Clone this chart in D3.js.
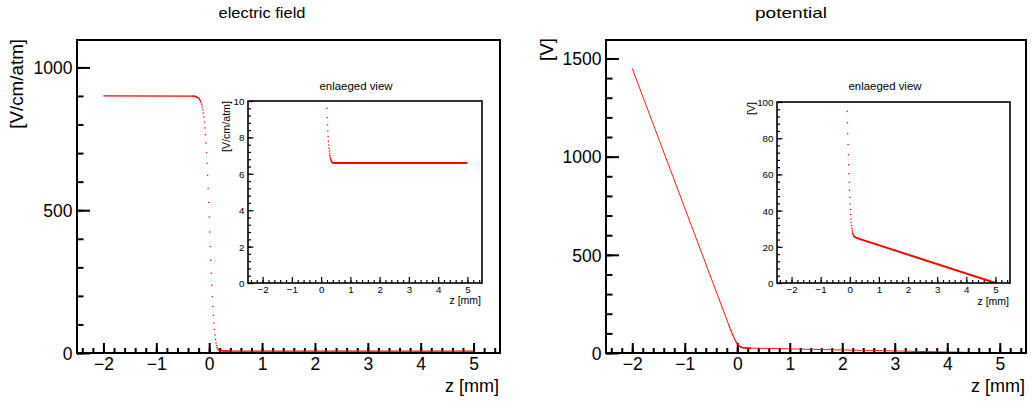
<!DOCTYPE html>
<html><head><meta charset="utf-8">
<script src="https://cdn.jsdelivr.net/npm/d3@7"></script>
<style>
body{margin:0;background:#fff}
text{font-family:'Liberation Sans',Arial,Helvetica,sans-serif;fill:#000}
</style>
</head><body>
<svg id="c" width="1031" height="401"></svg>
<script>
// ---------------- data ----------------
const zDomain = [-2.5, 5.5];
const xMajorTicks = [-2, -1, 0, 1, 2, 3, 4, 5];

// electric field [V/cm/atm]: smooth/flat parts (line) and densely sampled transition (dots)
const fieldLineZ = [-2, -0.30, null, 0.40, 5];
const fieldLineE = [900, 899.5, null, 6.6, 6.6];
const fieldDotZ = [-0.30,-0.29,-0.28,-0.27,-0.26,-0.25,-0.24,-0.23,-0.22,-0.21,
  -0.20,-0.19,-0.18,-0.17,-0.16,-0.15,-0.14,-0.13,-0.12,-0.11,
  -0.10,-0.09,-0.08,-0.07,-0.06,-0.05,-0.04,-0.03,-0.02,-0.01,
  0.00,0.01,0.02,0.03,0.04,0.05,0.06,0.07,0.08,0.09,
  0.10,0.11,0.12,0.13,0.14,0.15,0.16,0.17,0.18,0.19,
  0.20,0.21,0.22,0.23,0.24,0.25,0.26,0.27,0.28,0.29,
  0.30,0.31,0.32,0.33,0.34,0.35,0.36,0.37,0.38,0.39,0.40];
const fieldDotE = [899.5,899.3,899.0,898.6,898.1,897.5,896.7,895.8,894.8,893.5,
  892,890,887,884,880,875,869,861,852,840,
  826,809,788,764,735,702,664,622,576,527,
  476,424,373,325,279,237,198,163,132,105,
  82,63,47,35,26,19.5,15,12.5,11,10.2,
  9.6,9.1,8.7,8.35,8.05,7.8,7.58,7.4,7.25,7.12,
  7.01,6.92,6.85,6.79,6.74,6.7,6.67,6.65,6.63,6.61,6.6];

// potential [V]
const potentialLineZ = [-2, -0.15, null, 0.25, 5];
const potentialLineV = [1449, 135.0, null, 24.8, 0];
const potentialDotZ = [-0.15,-0.14,-0.13,-0.12,-0.11,-0.10,-0.09,-0.08,-0.07,-0.06,
  -0.05,-0.04,-0.03,-0.02,-0.01,0.00,0.01,0.02,0.03,0.04,
  0.05,0.06,0.07,0.08,0.09,0.10,0.11,0.12,0.13,0.14,
  0.15,0.16,0.17,0.18,0.19,0.20,0.21,0.22,0.23,0.24,0.25];
const potentialDotV = [135.0,128.1,121.3,114.5,107.8,101.2,94.8,88.5,82.4,76.5,
  70.8,65.4,60.3,55.6,51.2,47.3,43.7,40.6,37.8,35.4,
  33.4,31.7,30.3,29.1,28.2,27.5,26.9,26.5,26.2,25.9,
  25.7,25.6,25.5,25.4,25.3,25.2,25.1,25.1,25.0,24.9,24.8];

const fieldMajor = [0, 500, 1000];
const potentialMajor = [0, 500, 1000, 1500];
const insetFieldMajor = [0, 2, 4, 6, 8, 10];
const insetPotentialMajor = [0, 20, 40, 60, 80, 100];

// ---------------- drawing ----------------
const svg = d3.select('#c');
svg.append('rect').attr('width', 1031).attr('height', 401).attr('fill', '#fff');
const fmt = d3.format('d');

let clipN = 0;
function panel(o) {
  const g = svg.append('g');
  const x = d3.scaleLinear().domain(zDomain).range([o.x0, o.x1]);
  const y = d3.scaleLinear().domain(o.yDomain).range([o.y1, o.y0]);
  const cid = 'clip' + (clipN++);
  svg.append('clipPath').attr('id', cid).append('rect')
    .attr('x', o.x0).attr('y', o.y0).attr('width', o.x1 - o.x0).attr('height', o.y1 - o.y0);

  const xm = g.append('g').attr('transform', `translate(0,${o.y1})`)
    .call(d3.axisBottom(x).tickValues(d3.ticks(zDomain[0], zDomain[1], 40)).tickSize(-o.xMinor).tickFormat(''));
  const xa = g.append('g').attr('transform', `translate(0,${o.y1})`)
    .call(d3.axisBottom(x).tickValues(xMajorTicks).tickSize(-o.xMajor).tickFormat(fmt));
  xa.selectAll('text').attr('y', o.xLabelDy).attr('dy', 0).style('font-size', o.tickFont + 'px');
  const yMinorVals = d3.range(o.yDomain[0], o.yDomain[1] + 1e-9, o.yMinorStep);
  const ym = g.append('g').attr('transform', `translate(${o.x0},0)`)
    .call(d3.axisLeft(y).tickValues(yMinorVals).tickSize(-o.yMinor).tickFormat(''));
  const ya = g.append('g').attr('transform', `translate(${o.x0},0)`)
    .call(d3.axisLeft(y).tickValues(o.yMajor).tickSize(-o.yMajor2).tickFormat(fmt));
  ya.selectAll('text').attr('x', -o.yLabelGap).attr('dy', '0.36em').style('font-size', o.tickFont + 'px');
  [xm, xa, ym, ya].forEach(a => {
    a.select('.domain').remove();
    a.selectAll('line').attr('stroke', '#000').attr('stroke-width', o.tickW);
  });

  const dg = g.append('g').attr('clip-path', `url(#${cid})`);
  const linePts = o.lineZ.map((z, i) => [z, o.lineV[i]]);
  dg.append('path')
    .attr('d', d3.line().defined(d => d[0] !== null).x(d => x(d[0])).y(d => y(d[1]))(linePts))
    .attr('fill', 'none').attr('stroke', '#ff0000').attr('stroke-width', o.lineW);
  dg.selectAll('circle.d').data(o.dotZ.map((z, i) => [z, o.dotV[i]])).enter()
    .append('circle').attr('class', 'd')
    .attr('cx', d => x(d[0])).attr('cy', d => y(d[1])).attr('r', o.dotR)
    .attr('fill', '#ff0000');

  g.append('rect').attr('x', o.x0).attr('y', o.y0).attr('width', o.x1 - o.x0).attr('height', o.y1 - o.y0)
    .attr('fill', 'none').attr('stroke', '#000').attr('stroke-width', o.frameW);

  g.append('text').attr('x', o.x1 - 1).attr('y', o.xTitleY).attr('text-anchor', 'end')
    .style('font-size', o.axisTitleFont + 'px').text('z [mm]');
  g.append('text').attr('transform', `translate(${o.yTitleX},${o.yTitleEnd}) rotate(-90)`)
    .attr('text-anchor', 'end').style('font-size', o.yTitleFont + 'px').text(o.yTitle);
  g.append('text').attr('x', o.titleX).attr('y', o.titleY).attr('text-anchor', 'middle')
    .attr('textLength', o.titleLen).attr('lengthAdjust', 'spacingAndGlyphs')
    .style('font-size', o.titleFont + 'px').text(o.title);
}

const mainStyle = {xMajor: 10, xMinor: 5, yMajor2: 13, yMinor: 6.5, tickW: 2, frameW: 2,
  tickFont: 17.5, xLabelDy: 17, yLabelGap: 4.5, axisTitleFont: 18, yTitleFont: 18.8,
  xTitleY: 392, titleY: 18, titleFont: 15, lineW: 1.3, dotR: 0.75};
const insetStyle = {xMajor: 6, xMinor: 3, yMajor2: 5.5, yMinor: 3, tickW: 1.2, frameW: 1.6,
  tickFont: 9.8, xLabelDy: 9.5, yLabelGap: 3.5, axisTitleFont: 10.5, yTitleFont: 10.7,
  titleY: 90, titleFont: 10.8, titleLen: 73, lineW: 2, dotR: 0.75};

panel(Object.assign({}, mainStyle, {
  x0: 77, x1: 500, y0: 40, y1: 353, yDomain: [0, 1096], yMajor: fieldMajor, yMinorStep: 100,
  yTitle: '[V/cm/atm]', yTitleX: 23, yTitleEnd: 39,
  title: 'electric field', titleX: 262, titleLen: 87,
  lineZ: fieldLineZ, lineV: fieldLineE, dotZ: fieldDotZ, dotV: fieldDotE
}));
panel(Object.assign({}, mainStyle, {
  x0: 606, x1: 1026, y0: 40, y1: 353, yDomain: [0, 1594], yMajor: potentialMajor, yMinorStep: 100,
  yTitle: '[V]', yTitleX: 553, yTitleEnd: 38,
  title: 'potential', titleX: 791, titleLen: 72, lineW: 0.9,
  lineZ: potentialLineZ, lineV: potentialLineV, dotZ: potentialDotZ, dotV: potentialDotV
}));
panel(Object.assign({}, insetStyle, {
  x0: 248, x1: 482, y0: 101, y1: 283, yDomain: [0, 10], yMajor: insetFieldMajor, yMinorStep: 0.4,
  yTitle: '[V/cm/atm]', yTitleX: 229.5, yTitleEnd: 101, xTitleY: 303.5,
  title: 'enlaeged view', titleX: 356,
  lineZ: fieldLineZ, lineV: fieldLineE, dotZ: fieldDotZ, dotV: fieldDotE
}));
panel(Object.assign({}, insetStyle, {
  x0: 777, x1: 1010, y0: 102, y1: 283, yDomain: [0, 100], yMajor: insetPotentialMajor, yMinorStep: 4,
  yTitle: '[V]', yTitleX: 754.5, yTitleEnd: 102, xTitleY: 304.5,
  title: 'enlaeged view', titleX: 885,
  lineZ: potentialLineZ, lineV: potentialLineV, dotZ: potentialDotZ, dotV: potentialDotV
}));
</script>
</body></html>
